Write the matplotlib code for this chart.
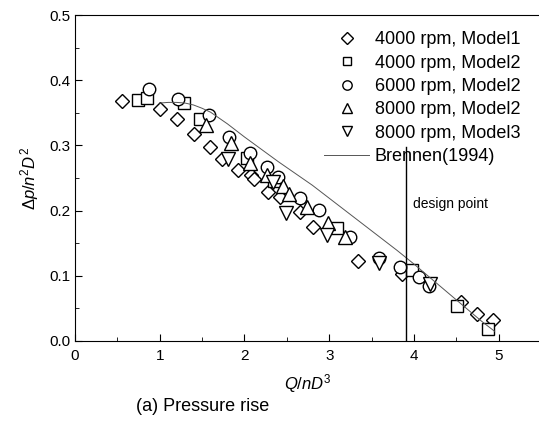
import matplotlib
matplotlib.use("Agg")
import matplotlib.pyplot as plt
from matplotlib.ticker import MultipleLocator

plt.rcParams['font.family'] = ['Liberation Sans', 'DejaVu Sans']
plt.rcParams['mathtext.fontset'] = 'custom'
plt.rcParams['mathtext.it'] = 'Liberation Sans:italic'
plt.rcParams['mathtext.rm'] = 'Liberation Sans'

# 4000 rpm, Model1
m1_4000_x = [0.56, 1.00, 1.21, 1.40, 1.59, 1.73, 1.92, 2.08, 2.11, 2.28, 2.42, 2.65, 2.81, 3.34, 3.86, 4.55, 4.74, 4.93]
m1_4000_y = [0.368, 0.356, 0.340, 0.318, 0.297, 0.279, 0.263, 0.255, 0.248, 0.229, 0.221, 0.198, 0.175, 0.123, 0.103, 0.060, 0.042, 0.032]
# 4000 rpm, Model2
m2_4000_x = [0.75, 0.85, 1.29, 1.47, 2.03, 2.35, 3.09, 3.98, 4.51, 4.87]
m2_4000_y = [0.370, 0.372, 0.365, 0.340, 0.281, 0.245, 0.174, 0.109, 0.054, 0.018]
# 6000 rpm, Model2
m2_6000_x = [0.87, 1.22, 1.58, 1.82, 2.07, 2.27, 2.40, 2.65, 2.88, 3.25, 3.59, 3.83, 4.06, 4.18]
m2_6000_y = [0.386, 0.371, 0.346, 0.313, 0.288, 0.267, 0.252, 0.220, 0.201, 0.160, 0.128, 0.114, 0.098, 0.085]
# 8000 rpm, Model2
m2_8000_x = [1.55, 1.84, 2.07, 2.26, 2.46, 2.52, 2.74, 2.98, 3.19]
m2_8000_y = [0.331, 0.303, 0.273, 0.255, 0.237, 0.225, 0.205, 0.181, 0.160]
# 8000 rpm, Model3
m3_8000_x = [1.81, 2.34, 2.49, 2.97, 3.59, 4.19]
m3_8000_y = [0.279, 0.244, 0.196, 0.162, 0.119, 0.088]
# Brennen (1994)
brennen_x = [1.0, 1.1, 1.2, 1.3, 1.4, 1.5, 1.6, 1.7, 1.8, 1.9, 2.0, 2.2, 2.4, 2.6, 2.8, 3.0,
             3.2, 3.4, 3.6, 3.8, 4.0, 4.2, 4.4, 4.6, 4.8, 4.95]
brennen_y = [0.365, 0.366, 0.366, 0.365, 0.362, 0.357, 0.351, 0.342, 0.333, 0.323, 0.313, 0.294,
             0.275, 0.257, 0.239, 0.219, 0.199, 0.179, 0.159, 0.139, 0.118, 0.096, 0.074, 0.052,
             0.030, 0.015]

design_x = 3.9

fig = plt.figure(figsize=(5.39, 4.3), dpi=100)
ax = fig.add_axes([0.139, 0.207, 0.865, 0.758])

mk = dict(linestyle='none', markerfacecolor='white', markeredgecolor='black',
          markeredgewidth=1.0)
ax.plot(m1_4000_x, m1_4000_y, marker='D', markersize=7.5, label='4000 rpm, Model1', **mk)
ax.plot(m2_4000_x, m2_4000_y, marker='s', markersize=8, label='4000 rpm, Model2', **mk)
ax.plot(m2_6000_x, m2_6000_y, marker='o', markersize=9, label='6000 rpm, Model2', **mk)
ax.plot(m2_8000_x, m2_8000_y, marker='^', markersize=9.5, label='8000 rpm, Model2', **mk)
ax.plot(m3_8000_x, m3_8000_y, marker='v', markersize=9.5, label='8000 rpm, Model3', **mk)
ax.plot(brennen_x, brennen_y, color='#555555', linewidth=0.7, label='Brennen(1994)')

ax.plot([design_x, design_x], [0, 0.298], color='black', linewidth=1.0)
ax.text(3.99, 0.204, 'design point', fontsize=10)

ax.set_xlim(0, 5.5)
ax.set_ylim(0, 0.5)
ax.xaxis.set_major_locator(MultipleLocator(1))
ax.xaxis.set_minor_locator(MultipleLocator(0.5))
ax.yaxis.set_major_locator(MultipleLocator(0.1))
ax.yaxis.set_minor_locator(MultipleLocator(0.05))
ax.set_xticks([0, 1, 2, 3, 4, 5])
ax.set_yticks([0.0, 0.1, 0.2, 0.3, 0.4, 0.5])
ax.set_yticklabels(['0.0', '0.1', '0.2', '0.3', '0.4', '0.5'])
ax.tick_params(which='both', direction='in', labelsize=11)
ax.tick_params(which='major', length=5)
ax.tick_params(which='minor', length=3)
ax.tick_params(axis='x', pad=6)

ax.set_xlabel(r'$Q/nD^3$', fontsize=12, labelpad=6)
ax.set_ylabel(r'$\Delta p/n^2D^2$', fontsize=12, labelpad=6)

ax.legend(loc='upper right', bbox_to_anchor=(0.99, 1.0), frameon=False,
          fontsize=13, labelspacing=0.35, handletextpad=0.3, handlelength=2.5,
          markerscale=0.75)

fig.text(0.375, 0.045, '(a) Pressure rise', fontsize=13, ha='center')

fig.savefig('out.png', dpi=100)
